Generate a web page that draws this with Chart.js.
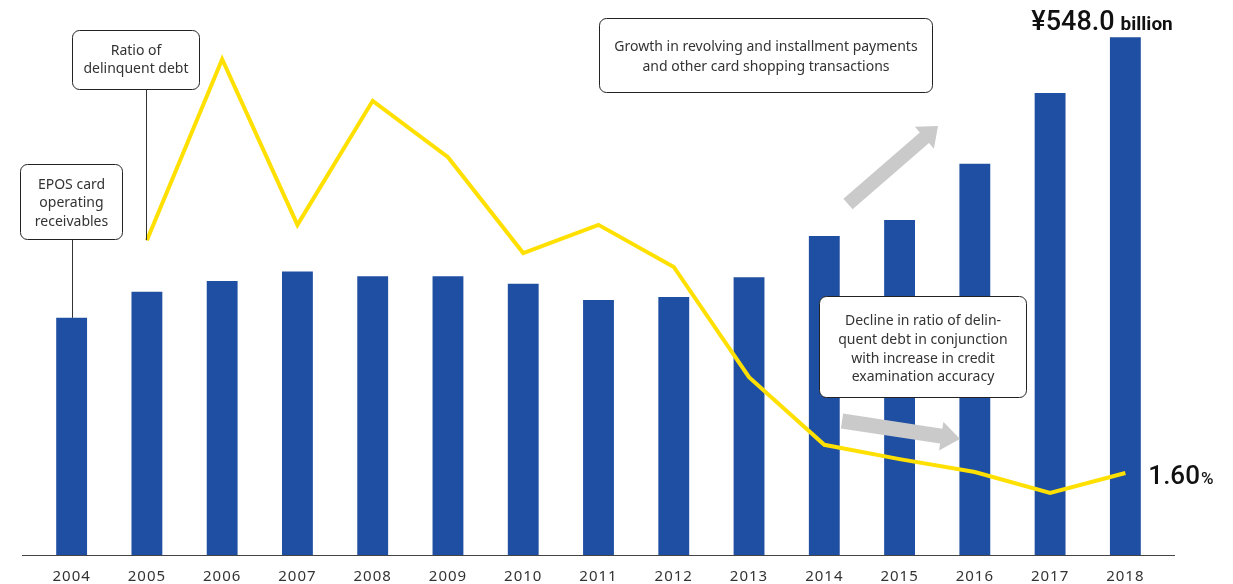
<!DOCTYPE html>
<html>
<head>
<meta charset="utf-8">
<script src="https://cdn.jsdelivr.net/npm/chart.js@4.4.1/dist/chart.umd.min.js"></script>
<style>
  html, body { margin: 0; padding: 0; background: #fff; }
  #wrap { width: 1233px; height: 584px; position: relative; }
</style>
</head>
<body>
<div id="wrap"><canvas id="receivablesChart"></canvas></div>
<script>
const years = ['2004', '2005', '2006', '2007', '2008', '2009', '2010', '2011', '2012', '2013', '2014', '2015', '2016', '2017', '2018'];
// EPOS card operating receivables, billions of yen
const receivables = [251, 278.5, 290, 300, 295, 295, 287, 270, 273, 294, 337.5, 354.5, 414, 489, 548.0];
// Ratio of delinquent debt, %
const delinquentRatio = [null, 6.14, 9.67, 6.44, 8.86, 7.76, 5.89, 6.44, 5.62, 3.47, 2.15, 1.87, 1.62, 1.21, 1.60];

const TEXT = '#333333';
const FONT = '"Noto Sans", "Liberation Sans", sans-serif';
const NUM_FONT = 'Roboto, "Noto Sans", sans-serif';

function roundBox(ctx, x, y, w, h, r) {
    ctx.beginPath();
    ctx.moveTo(x + r, y);
    ctx.arcTo(x + w, y, x + w, y + h, r);
    ctx.arcTo(x + w, y + h, x, y + h, r);
    ctx.arcTo(x, y + h, x, y, r);
    ctx.arcTo(x, y, x + w, y, r);
    ctx.closePath();
    ctx.fillStyle = '#fff';
    ctx.fill();
    ctx.lineWidth = 1;
    ctx.strokeStyle = '#222';
    ctx.stroke();
}

function boxText(ctx, lines, cx, firstY, step) {
    ctx.font = '14px ' + FONT;
    ctx.fillStyle = TEXT;
    ctx.textAlign = 'center';
    ctx.textBaseline = 'middle';
    lines.forEach((t, i) => ctx.fillText(t, cx, firstY + i * step));
}

function arrow(ctx, x0, y0, x1, y1, shaft, head, headLen) {
    const ang = Math.atan2(y1 - y0, x1 - x0);
    const len = Math.hypot(x1 - x0, y1 - y0);
    ctx.save();
    ctx.translate(x0, y0);
    ctx.rotate(ang);
    ctx.beginPath();
    ctx.moveTo(0, -shaft / 2);
    ctx.lineTo(len - headLen, -shaft / 2);
    ctx.lineTo(len - headLen, -head / 2);
    ctx.lineTo(len, 0);
    ctx.lineTo(len - headLen, head / 2);
    ctx.lineTo(len - headLen, shaft / 2);
    ctx.lineTo(0, shaft / 2);
    ctx.closePath();
    ctx.fillStyle = '#c9cac9';
    ctx.fill();
    ctx.restore();
}

const annotations = {
    id: 'annotations',
    beforeDraw(chart) {
        chart.ctx.letterSpacing = '1px';
    },
    beforeDatasetsDraw(chart) {
        chart.ctx.letterSpacing = '0px';
    },
    afterDatasetsDraw(chart) {
        const ctx = chart.ctx;
        const x = chart.scales.x;
        const y = chart.scales.y;
        const y2 = chart.scales.y2;
        const bottom = chart.chartArea.bottom;
        const last = years.length - 1;

        ctx.save();

        // baseline
        ctx.strokeStyle = '#444';
        ctx.lineWidth = 1.2;
        ctx.beginPath();
        ctx.moveTo(22, bottom + 0.5);
        ctx.lineTo(1175, bottom + 0.5);
        ctx.stroke();

        // leader lines
        ctx.strokeStyle = '#333';
        ctx.lineWidth = 1;
        const x04 = Math.round(x.getPixelForValue(0)) + 0.5;
        ctx.beginPath();
        ctx.moveTo(x04, 239);
        ctx.lineTo(x04, y.getPixelForValue(receivables[0]));
        ctx.stroke();
        const x05 = Math.round(x.getPixelForValue(1)) - 0.5;
        ctx.beginPath();
        ctx.moveTo(x05, 89);
        ctx.lineTo(x05, y2.getPixelForValue(delinquentRatio[1]));
        ctx.stroke();

        // callout boxes
        roundBox(ctx, 20.5, 164.5, 102, 75, 7);
        boxText(ctx, ['EPOS card', 'operating', 'receivables'], 71.5, 185, 18.5);

        roundBox(ctx, 72.5, 30.5, 127, 59, 7);
        boxText(ctx, ['Ratio of', 'delinquent debt'], 136, 51, 18.5);

        roundBox(ctx, 599.5, 18.5, 333, 74, 7);
        boxText(ctx, ['Growth in revolving and installment payments', 'and other card shopping transactions'], 766, 47, 20);

        roundBox(ctx, 819.5, 296.5, 207, 101, 7);
        boxText(ctx, ['Decline in ratio of delin-', 'quent debt in conjunction', 'with increase in credit', 'examination accuracy'], 923, 321.5, 18.6);

        // trend arrows
        arrow(ctx, 848, 204, 938, 126, 14, 29, 18);
        arrow(ctx, 842, 421, 960, 439, 15, 29, 19);

        // value labels
        const bx = x.getPixelForValue(last);
        const by = y.getPixelForValue(receivables[last]);
        ctx.textAlign = 'left';
        ctx.textBaseline = 'alphabetic';
        ctx.fillStyle = '#111';
        ctx.font = '500 27px ' + NUM_FONT;
        const main = '¥' + receivables[last].toFixed(1);
        ctx.fillText(main, bx - 94, by - 7.5);
        const mw = ctx.measureText(main).width;
        ctx.font = 'bold 19px ' + NUM_FONT;
        ctx.fillText('billion', bx - 94 + mw + 6, by - 7.5);

        const ly = y2.getPixelForValue(delinquentRatio[last]);
        ctx.font = '500 26px ' + NUM_FONT;
        const pct = delinquentRatio[last].toFixed(2);
        ctx.fillText(pct, bx + 23, ly + 11);
        const pw = ctx.measureText(pct).width;
        ctx.font = '500 17px ' + NUM_FONT;
        ctx.fillText('%', bx + 23 + pw + 1, ly + 11);

        ctx.restore();
    }
};

new Chart(document.getElementById('receivablesChart'), {
    data: {
        labels: years,
        datasets: [
            {
                type: 'line',
                label: 'Ratio of delinquent debt',
                data: delinquentRatio,
                yAxisID: 'y2',
                borderColor: '#ffe000',
                borderWidth: 4,
                borderJoinStyle: 'miter',
                pointRadius: 0,
                tension: 0,
                spanGaps: false
            },
            {
                type: 'bar',
                label: 'EPOS card operating receivables',
                data: receivables,
                yAxisID: 'y',
                backgroundColor: '#1f4fa2',
                barPercentage: 0.41,
                categoryPercentage: 1
            }
        ]
    },
    options: {
        responsive: true,
        maintainAspectRatio: false,
        animation: false,
        layout: {
            padding: { left: 34, right: 70, top: 7, bottom: 0 }
        },
        plugins: {
            legend: { display: false },
            tooltip: { enabled: false }
        },
        scales: {
            x: {
                grid: { display: false, drawTicks: false },
                border: { display: false },
                ticks: {
                    padding: 13,
                    color: TEXT,
                    font: { family: FONT, size: 15 }
                },
                afterFit(scale) {
                    scale.height = 29;
                }
            },
            y: {
                display: false,
                min: 0,
                max: 580
            },
            y2: {
                display: false,
                position: 'right',
                min: 0,
                max: 10.69
            }
        }
    },
    plugins: [annotations]
});
</script>
</body>
</html>
